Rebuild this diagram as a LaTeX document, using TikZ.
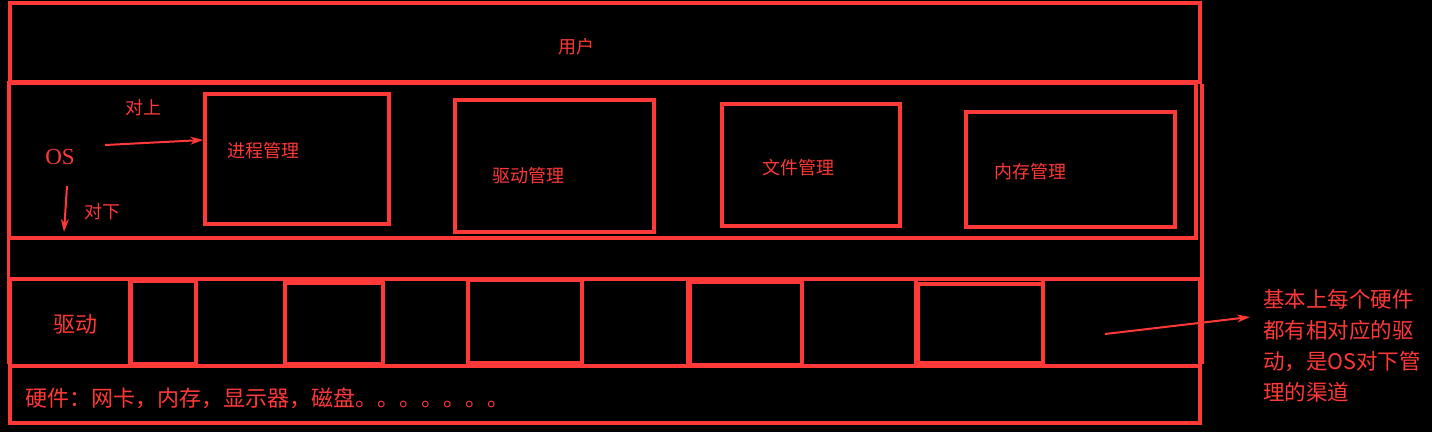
\documentclass[tikz,border=0pt]{standalone}
\usepackage{fontspec}
\setmainfont{Noto Sans CJK SC}
\newfontfamily\osfont{Liberation Serif}
\usetikzlibrary{arrows.meta}
\definecolor{redline}{RGB}{255,56,56}

\tikzset{
  layer/.style={draw=redline, line width=3.5pt, rectangle, inner sep=0pt},
  mgr/.style={draw=redline, line width=3.5pt, rectangle, inner sep=0pt},
  lbl/.style={text=redline, inner sep=0pt, font=\fontsize{18}{22}\selectfont},
  pointer/.style={draw=redline, line width=2pt, -{Stealth[length=13pt,width=8pt]}},
}

\begin{document}
\begin{tikzpicture}[x=1pt, y=-1pt]
  \fill[black] (0,0) rectangle (1432,432);
  \useasboundingbox (0,0) rectangle (1432,432);

  % layers
  \node [layer, minimum width=1190pt, minimum height=79pt](user) at (605,42.5) {};
  \node [layer, minimum width=1187pt, minimum height=155pt](os) at (602.5,160.5) {};
  \node [layer, minimum width=1190pt, minimum height=87pt](drv) at (605,322.5) {};
  \node [layer, minimum width=1190pt, minimum height=57pt](hw) at (605,394.5) {};
  \draw [redline, line width=3.5pt] (user.south west) -- (hw.north west);
  \draw [redline, line width=3.5pt] (user.south east) -- (hw.north east);

  \node [lbl](usert) at (576,47) {用户};

  % OS managers
  \node [mgr, minimum width=184pt, minimum height=130pt](proc) at (297,159) {};
  \node [mgr, minimum width=199pt, minimum height=132pt](drvm) at (554.5,166) {};
  \node [mgr, minimum width=178pt, minimum height=122pt](file) at (811,165) {};
  \node [mgr, minimum width=209pt, minimum height=115pt](mem) at (1070.5,169.5) {};

  \node [lbl, anchor=west](proct) at (227,151) {进程管理};
  \node [lbl, anchor=west](drvmt) at (492,176) {驱动管理};
  \node [lbl, anchor=west](filet) at (762,168) {文件管理};
  \node [lbl, anchor=west](memt) at (994,172) {内存管理};

  % OS and its two directions
  \node [lbl, font=\osfont\fontsize{23}{26}\selectfont](osl) at (60,157) {OS};
  \coordinate (upfrom) at (105,145);
  \coordinate (downfrom) at (67,186);
  \coordinate (downto) at (64,232);
  \draw [pointer] (upfrom) -- (proc.west |- 0,140);
  \draw [pointer] (downfrom) -- (downto);
  \node [lbl](up) at (143,108) {对上};
  \node [lbl](down) at (102,212) {对下};

  % driver row
  \node [lbl, font=\fontsize{22}{26}\selectfont](drvl) at (75,324) {驱动};
  \foreach \xx in {130,196,285,383,468,582,688,802,916,1043}
    \draw [redline, line width=3.5pt] (\xx,279) -- (\xx,366);
  \foreach \xa/\xb/\ya/\yb in {131/196/281/364, 285/383/283/364, 468/582/280/363,
                                690/802/282/365, 918/1043/284/363}
    \draw [redline, line width=3.5pt] (\xa,\ya) rectangle (\xb,\yb);

  % hardware
  \node [lbl, anchor=west, font=\fontsize{22}{24}\selectfont](hwt) at (25,398) {硬件：网卡，内存，显示器，磁盘。。。。。。。};

  % note
  \node [lbl, anchor=north west, align=left, font=\fontsize{21.5}{31}\selectfont](note) at (1263,289)
    {基本上每个硬件\\都有相对应的驱\\动，是OS对下管\\理的渠道};
  \coordinate (notefrom) at (1105,334);
  \coordinate (noteto) at (1250,317);
  \draw [pointer] (notefrom) -- (noteto);
\end{tikzpicture}
\end{document}
